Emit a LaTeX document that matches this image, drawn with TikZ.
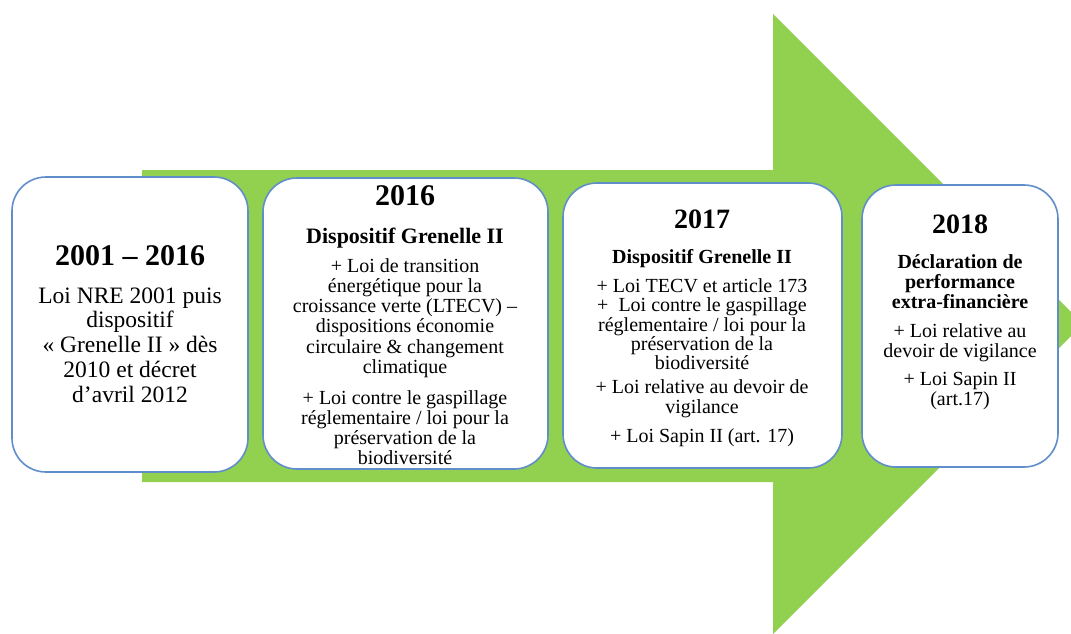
\documentclass[tikz,border=0pt]{standalone}
\usepackage{fontspec}
\setmainfont{Liberation Serif}
\definecolor{arrowgreen}{RGB}{146,208,80}
\definecolor{boxblue}{RGB}{96,142,202}
\begin{document}
\begin{tikzpicture}[x=1pt,y=-1pt,
  box/.style={draw=boxblue, line width=1.6pt, fill=white, rounded corners=34pt, inner sep=0pt},
  txt/.style={anchor=base, inner sep=0pt, font=\fontsize{20}{20}\selectfont},
  bigtxt/.style={anchor=base, inner sep=0pt, font=\fontsize{23.5}{25}\selectfont},
  yr/.style={anchor=base, inner sep=0pt, font=\fontsize{30}{30}\selectfont\bfseries},
  yrs/.style={anchor=base, inner sep=0pt, font=\fontsize{28}{28}\selectfont\bfseries},
  sub/.style={anchor=base, inner sep=0pt, font=\fontsize{20}{20}\selectfont\bfseries}]
\useasboundingbox (0,0) rectangle (1071,633);
\clip (0,0) rectangle (1071,633);
\fill[white] (0,0) rectangle (1071,633);
% big arrow
\fill[arrowgreen] (142,170) -- (773,170) -- (773,14) -- (1083,324) -- (773,634) -- (773,482) -- (142,482) -- cycle;
% boxes
\node[box, minimum width=236pt, minimum height=295pt] (box1) at (130,324.5) {};
\node[box, minimum width=285pt, minimum height=291pt] (box2) at (405.5,323.5) {};
\node[box, minimum width=279pt, minimum height=285pt] (box3) at (702.5,325.5) {};
\node[box, minimum width=196pt, minimum height=282pt] (box4) at (960,326) {};
% box 1
\node[yr] (a0) at (130,265) {2001 – 2016};
\node[bigtxt] (a1) at (130,303) {Loi NRE 2001 puis};
\node[bigtxt] (a2) at (130,327) {dispositif};
\node[bigtxt] (a3) at (130,352) {« Grenelle II » dès};
\node[bigtxt] (a4) at (130,377) {2010 et décret};
\node[bigtxt] (a5) at (130,402) {d’avril 2012};
% box 2
\node[yr] (b0) at (405,205) {2016};
\node[sub, font=\fontsize{22}{22}\selectfont\bfseries] (b1) at (405,243) {Dispositif Grenelle II};
\node[txt] (b2) at (405,272) {+ Loi de transition};
\node[txt] (b3) at (405,292) {énergétique pour la};
\node[txt] (b4) at (405,312) {croissance verte (LTECV) –};
\node[txt] (b5) at (405,332) {dispositions économie};
\node[txt] (b6) at (405,353) {circulaire \& changement};
\node[txt] (b7) at (405,373) {climatique};
\node[txt] (b8) at (405,404) {+ Loi contre le gaspillage};
\node[txt] (b9) at (405,424) {réglementaire / loi pour la};
\node[txt] (b10) at (405,444) {préservation de la};
\node[txt] (b11) at (405,464) {biodiversité};
% box 3
\node[yrs] (c0) at (702,228) {2017};
\node[sub] (c1) at (702,263) {Dispositif Grenelle II};
\node[txt] (c2) at (702,292) {+ Loi TECV et article 173};
\node[txt] (c3) at (702,311) {+\ \ Loi contre le gaspillage};
\node[txt] (c4) at (702,331) {réglementaire / loi pour la};
\node[txt] (c5) at (702,350) {préservation de la};
\node[txt] (c6) at (702,369) {biodiversité};
\node[txt] (c7) at (702,393) {+ Loi relative au devoir de};
\node[txt] (c8) at (702,413) {vigilance};
\node[txt] (c9) at (702,442) {+ Loi Sapin II (art. 17)};
% box 4
\node[yrs] (d0) at (960,233) {2018};
\node[sub] (d1) at (960,268) {Déclaration de};
\node[sub] (d2) at (960,288) {performance};
\node[sub] (d3) at (960,308) {extra-financière};
\node[txt] (d4) at (960,337) {+ Loi relative au};
\node[txt] (d5) at (960,357) {devoir de vigilance};
\node[txt] (d6) at (960,385) {+ Loi Sapin II};
\node[txt] (d7) at (960,405) {(art.17)};
\end{tikzpicture}
\end{document}
